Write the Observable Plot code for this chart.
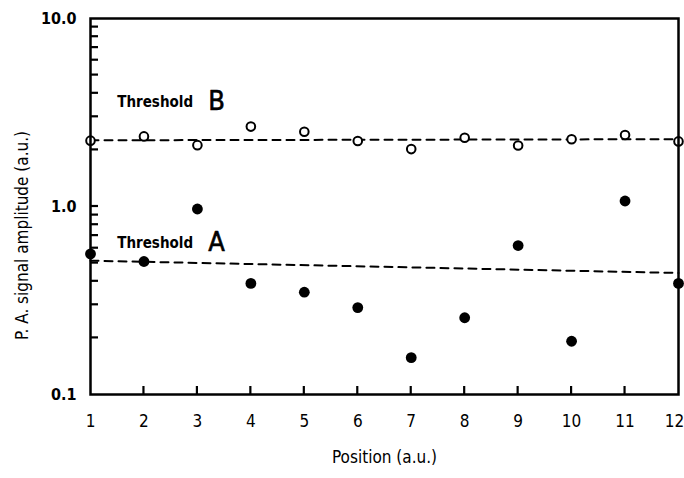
<!DOCTYPE html>
<html>
<head>
<meta charset="utf-8">
<script src="https://cdn.jsdelivr.net/npm/d3@7"></script>
<script src="https://cdn.jsdelivr.net/npm/@observablehq/plot@0.6"></script>
<style>
  html, body { margin: 0; padding: 0; background: #fff; }
  #chart { width: 684px; height: 478px; }
</style>
</head>
<body>
<div id="chart"></div>
<script>
// Data
const positions = [1, 2, 3, 4, 5, 6, 7, 8, 9, 10, 11, 12];
const openValues = [2.24, 2.36, 2.12, 2.66, 2.50, 2.23, 2.02, 2.32, 2.11, 2.28, 2.40, 2.22];
const filledValues = [0.56, 0.51, 0.97, 0.39, 0.35, 0.29, 0.157, 0.256, 0.62, 0.192, 1.07, 0.39];
const thresholdBX = [1, 12];
const thresholdBY = [2.25, 2.28];
const thresholdAX = [1, 12];
const thresholdAY = [0.515, 0.443];
const thresholdNames = ["Threshold", "Threshold"];
const thresholdLetters = ["B", "A"];
const thresholdLabelX = [1.5, 1.5];
const thresholdLabelY = [3.6, 0.637];
const xTicks = [1, 2, 3, 4, 5, 6, 7, 8, 9, 10, 11, 12];
const xInnerTicks = [2, 3, 4, 5, 6, 7, 8, 9, 10, 11];
const yTicks = [0.1, 1, 10];
const yTickLabels = ["0.1", "1.0", "10.0"];
const yMinorTicks = [0.2, 0.3, 0.4, 0.5, 0.6, 0.7, 0.8, 0.9, 1, 2, 3, 4, 5, 6, 7, 8, 9];
const xLabel = "Position (a.u.)";
const yLabel = "P. A. signal amplitude (a.u.)";

const font = "'DejaVu Sans Condensed', 'DejaVu Sans', sans-serif";

const W = 684, H = 478, mL = 90, mR = 6, mT = 18, mB = 84, tickLen = 8;

const openData = positions.map((x, i) => ({x, y: openValues[i]}));
const filledData = positions.map((x, i) => ({x, y: filledValues[i]}));
const lineB = thresholdBX.map((x, i) => ({x, y: thresholdBY[i]}));
const lineA = thresholdAX.map((x, i) => ({x, y: thresholdAY[i]}));
const labels = thresholdNames.map((t, i) => ({t, l: thresholdLetters[i], x: thresholdLabelX[i], y: thresholdLabelY[i]}));

// inward ticks drawn through Plot's own scales
function innerTicks(index, scales, values, dimensions) {
  const {height, marginLeft, marginBottom} = dimensions;
  const g = d3.create("svg:g").attr("stroke", "#000").attr("stroke-width", 2.2).attr("fill", "none");
  const yb = height - marginBottom;
  for (const v of xInnerTicks) {
    const x = scales.x(v);
    g.append("path").attr("d", `M${x},${yb}V${yb - tickLen}`);
  }
  for (const v of yMinorTicks) {
    const y = scales.y(v);
    g.append("path").attr("d", `M${marginLeft},${y}H${marginLeft + tickLen}`);
  }
  return g.node();
}

const chart = Plot.plot({
  width: W,
  height: H,
  marginLeft: mL,
  marginRight: mR,
  marginTop: mT,
  marginBottom: mB,
  style: {fontFamily: font, background: "#fff", color: "#000"},
  x: {domain: [1, 12]},
  y: {type: "log", domain: [0.1, 10]},
  marks: [
    Plot.line(lineB, {x: "x", y: "y", stroke: "#000", strokeWidth: 2, strokeDasharray: "8,6"}),
    Plot.line(lineA, {x: "x", y: "y", stroke: "#000", strokeWidth: 2, strokeDasharray: "8,6"}),
    Plot.dot(filledData, {x: "x", y: "y", r: 5.4, fill: "#000", stroke: "none"}),
    Plot.dot(openData, {x: "x", y: "y", r: 4.3, fill: "#fff", stroke: "#000", strokeWidth: 2}),
    Plot.text(labels, {x: "x", y: "y", text: "t", textAnchor: "start", fontSize: 15, fontWeight: "bold", fill: "#000"}),
    Plot.text(labels, {x: "x", y: "y", text: "l", textAnchor: "start", dx: 91, dy: -1, fontSize: 27, fill: "#000", stroke: "#000", strokeWidth: 0.6}),
    Plot.axisX({ticks: xTicks, tickSize: 0, tickPadding: 20, fontSize: 17, tickFormat: d => String(d), label: null}),
    Plot.axisY({ticks: yTicks, tickSize: 0, tickPadding: 14, fontSize: 16, fontWeight: "bold",
      tickFormat: d => yTickLabels[yTicks.indexOf(d)], label: null}),
    Plot.text([xLabel], {frameAnchor: "bottom", text: d => d, dy: 68, fontSize: 17, fill: "#000"}),
    Plot.text([yLabel], {frameAnchor: "left", text: d => d, textAnchor: "middle", rotate: -90, dx: -68, dy: 29, fontSize: 17, fill: "#000"}),
    Plot.frame({stroke: "#000", strokeWidth: 2.5}),
    innerTicks
  ]
});
document.getElementById("chart").appendChild(chart);
// nudge the last x tick label so it stays inside the picture
const xt = chart.querySelectorAll("[aria-label='x-axis tick label'] text");
if (xt.length) xt[xt.length - 1].setAttribute("dx", "-4");
</script>
</body>
</html>
